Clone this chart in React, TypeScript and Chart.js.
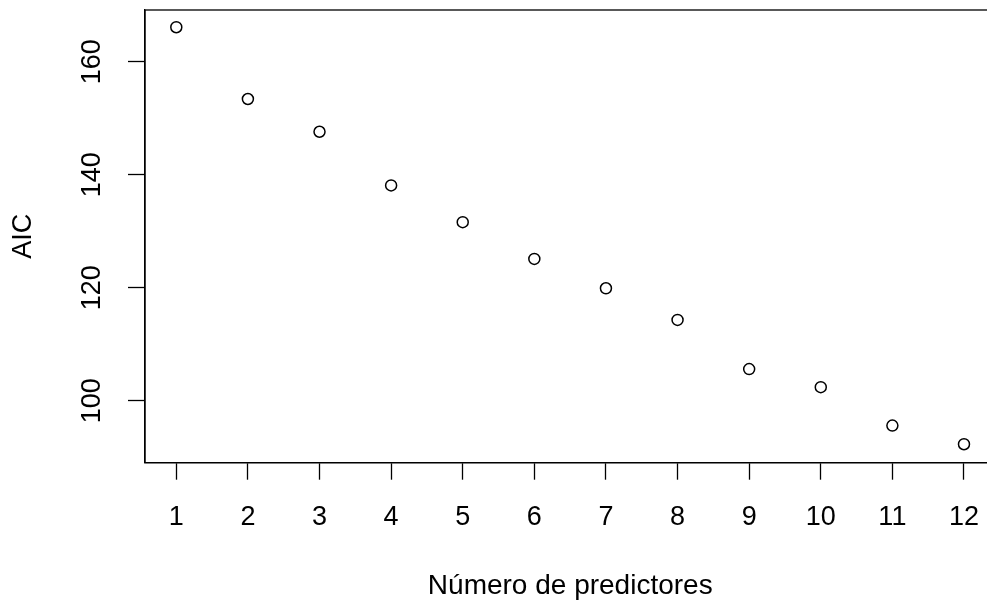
import React, { useEffect, useRef } from "react";
import { Chart, registerables } from "chart.js";

Chart.register(...registerables);

const predictors = [1, 2, 3, 4, 5, 6, 7, 8, 9, 10, 11, 12];
const aicValues = [166.1, 153.4, 147.6, 138.1, 131.6, 125.1, 119.9, 114.3, 105.6, 102.4, 95.6, 92.3];
const xTickValues = [1, 2, 3, 4, 5, 6, 7, 8, 9, 10, 11, 12];
const yTickValues = [100, 120, 140, 160];
const xTitle = "Número de predictores";
const yTitle = "AIC";

const FONT = "'Liberation Sans', Arial, sans-serif";

const boxPlugin = {
  id: "rbox",
  afterDraw(chart: any) {
    const { ctx, chartArea } = chart;
    ctx.save();
    ctx.strokeStyle = "#000";
    ctx.lineWidth = 1.3;
    ctx.strokeRect(chartArea.left, chartArea.top, chartArea.right - chartArea.left, chartArea.bottom - chartArea.top);
    ctx.restore();
  },
};

export default function App() {
  const ref = useRef<HTMLCanvasElement | null>(null);

  useEffect(() => {
    if (!ref.current) return;
    const chart = new Chart(ref.current, {
      type: "scatter",
      data: {
        datasets: [
          {
            data: predictors.map((x, i) => ({ x, y: aicValues[i] })),
            pointStyle: "circle",
            pointRadius: 5.5,
            pointBorderWidth: 1.5,
            pointBorderColor: "#000",
            pointBackgroundColor: "rgba(0,0,0,0)",
          },
        ],
      },
      options: {
        animation: false,
        responsive: false,
        devicePixelRatio: 1,
        layout: { padding: { left: 0, top: 10, right: 14.5, bottom: 0 } },
        plugins: { legend: { display: false }, tooltip: { enabled: false } },
        scales: {
          x: {
            type: "linear",
            min: 0.563,
            max: 12.44,
            afterBuildTicks: (s: any) => {
              s.ticks = xTickValues.map((v) => ({ value: v }));
            },
            afterFit: (s: any) => {
              s.height = 141.3;
              s.paddingLeft = 0;
              s.paddingRight = 0;
            },
            grid: {
              drawOnChartArea: false,
              drawTicks: true,
              tickLength: 17,
              tickColor: "#000",
              tickWidth: 1.3,
            },
            border: { display: true, color: "#000", width: 1.3 },
            ticks: {
              color: "#000",
              font: { family: FONT, size: 27 },
              padding: 22,
              maxRotation: 0,
              autoSkip: false,
            },
            title: {
              display: true,
              text: xTitle,
              color: "#000",
              font: { family: FONT, size: 28 },
              padding: { top: 0, bottom: 1 },
            },
          },
          y: {
            type: "linear",
            min: 89.03,
            max: 169.15,
            afterBuildTicks: (s: any) => {
              s.ticks = yTickValues.map((v) => ({ value: v }));
            },
            afterFit: (s: any) => {
              s.width = 145;
              s.paddingTop = 0;
              s.paddingBottom = 0;
            },
            grid: {
              drawOnChartArea: false,
              drawTicks: true,
              tickLength: 17,
              tickColor: "#000",
              tickWidth: 1.3,
            },
            border: { display: true, color: "#000", width: 1.3 },
            ticks: {
              color: "#000",
              font: { family: FONT, size: 27 },
              padding: 13,
              minRotation: 90,
              maxRotation: 90,
              crossAlign: "center",
              autoSkip: false,
            },
            title: {
              display: true,
              text: yTitle,
              color: "#000",
              font: { family: FONT, size: 27 },
              padding: { top: 7, bottom: 0 },
            },
          },
        },
      },
      plugins: [boxPlugin],
    } as any);
    return () => chart.destroy();
  }, []);

  return (
    <div style={{ position: "absolute", left: 0, top: 0, width: 987, height: 604, overflow: "hidden", background: "#fff" }}>
      <canvas ref={ref} width={1010} height={604} style={{ width: 1010, height: 604, display: "block" }} />
    </div>
  );
}
